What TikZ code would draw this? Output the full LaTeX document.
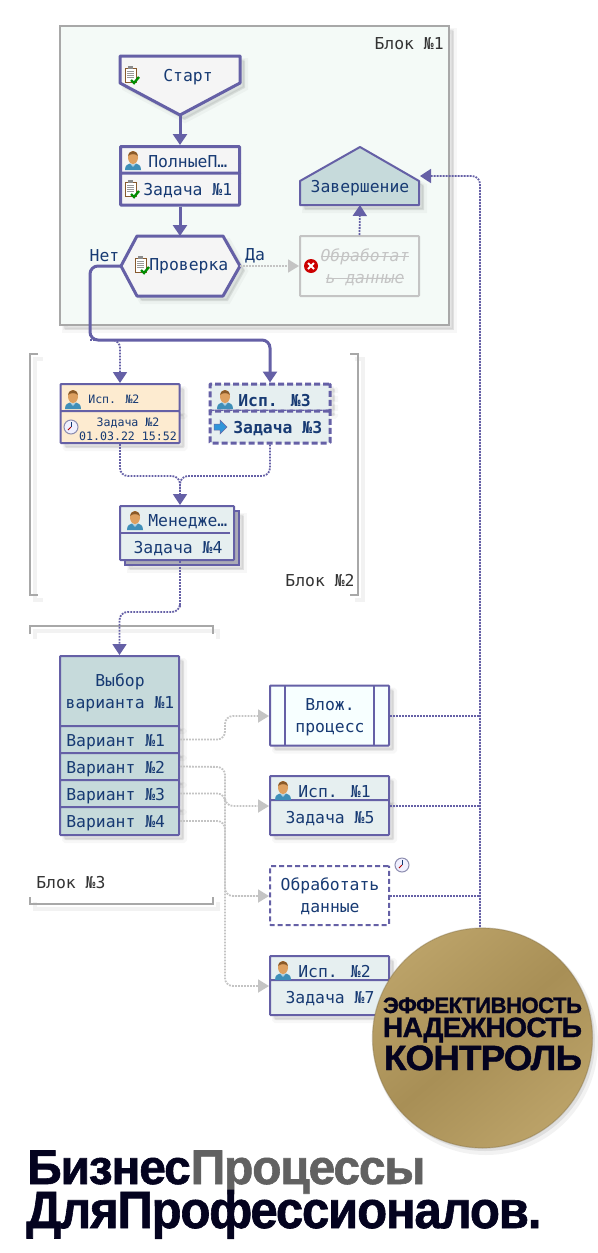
\documentclass[tikz,border=0pt]{standalone}
\usepackage{fontspec}
\usepackage{graphicx}
\usetikzlibrary{arrows.meta}
\setmainfont{DejaVu Sans Mono}
\newfontfamily\heavy[LetterSpace=-2.5,BoldFeatures={FakeBold=1.2}]{Liberation Sans}
\newdimen\upx \upx=.75pt
\definecolor{proc}{HTML}{6560A6}
\definecolor{ink}{HTML}{173A73}
\definecolor{greyl}{HTML}{C4C4C4}
\definecolor{brk}{HTML}{A8A8A8}
\definecolor{tealb}{HTML}{C6DADB}
\definecolor{paleb}{HTML}{E6EFF0}
\definecolor{peach}{HTML}{FDEBD0}
\definecolor{dark}{HTML}{04031F}
\definecolor{gold}{HTML}{BBA268}
\definecolor{golddk}{HTML}{A88F56}
\definecolor{pale}{HTML}{F4FAF7}
\definecolor{skin}{HTML}{DDA060}
\definecolor{hair}{HTML}{8A5A28}
\definecolor{shirt}{HTML}{3F8FB8}
\newcommand\strk[1]{\sbox0{#1}\rlap{\usebox0}\rule[.3em]{\wd0}{.07em}}
\tikzset{
  softsh/.style={
    preaction={transform canvas={shift={(5\upx,-5\upx)}},draw=black,draw opacity=.03,line width=6\upx,fill=black,fill opacity=.05},
    preaction={transform canvas={shift={(4\upx,-4\upx)}},draw=black,draw opacity=.04,line width=2\upx,fill=black,fill opacity=.05}},
  lineshadow/.style={
    preaction={transform canvas={shift={(5\upx,-5\upx)}},draw=black,draw opacity=.05,line width=4\upx}},
  txt/.style={text=ink,font=\fontsize{12.3}{16.5}\selectfont,inner sep=0pt,align=center,yshift=-1.5\upx},
  small/.style={text=ink,font=\fontsize{8.7}{10.5}\selectfont,inner sep=0pt,align=center,yshift=-1\upx},
  lbl/.style={text=black!80,font=\fontsize{12.3}{16.5}\selectfont,inner sep=0pt,yshift=-1.5\upx},
  cell/.style={rectangle,draw=proc,line width=2\upx,minimum width=119\upx,inner sep=0pt,rounded corners=.8\upx,fill=paleb},
  thickbox/.style={line width=3\upx},
  dashbox/.style={line width=3\upx,dash pattern=on 6\upx off 3\upx},
  strong/.style={draw=proc,line width=3\upx,rounded corners=8\upx,-{Triangle[length=8.25pt,width=10.5pt]}},
  dots/.style={draw=proc,line width=1.8\upx,dash pattern=on 1.8\upx off 1.2\upx,rounded corners=8\upx},
  dotarrow/.style={dots,-{Triangle[length=8.25pt,width=10.5pt,fill=proc]}},
  greydots/.style={draw=greyl,line width=1.8\upx,dash pattern=on 1.8\upx off 1.2\upx,rounded corners=8\upx,-{Triangle[length=8.25pt,width=9.75pt,fill=greyl]}},
  bracket/.style={draw=brk,line width=2\upx,lineshadow},
  person/.pic={
    \fill[fill=shirt] (-8,10) .. controls (-8,5) and (-5,4) .. (-3,3.5) -- (0,5.5) -- (3,3.5) .. controls (5,4) and (8,5) .. (8,10) -- cycle;
    \fill[fill=white!55!shirt] (-3,3.5) -- (0,7) -- (3,3.5) -- (0,4.5) -- cycle;
    \fill[fill=skin] (0,-2.5) ellipse [x radius=5, y radius=6.5];
    \fill[fill=hair] (-4.8,-4) .. controls (-4.5,-10.5) and (4.5,-10.5) .. (4.8,-4) .. controls (3,-6.5) and (-3,-6.5) .. (-4.8,-4) -- cycle;
  },
  clipboard/.pic={
    \fill[white,draw=brown!70!black,line width=.8\upx] (-6,-7) rectangle (5,7);
    \fill[black!45] (-3,-9) rectangle (2,-6);
    \foreach \yy in {-4,-2,0,2} {\draw[black!40,line width=.7\upx] (-4,\yy) -- (3,\yy);}
    \draw[green!55!black,line width=2.4\upx] (0,5) -- (3,8) -- (8,2);
  },
  clockicon/.pic={
    \fill[fill=blue!6,draw=blue!30!black!45,line width=1\upx] (0,0) circle [radius=7];
    \draw[red!70!black,line width=.9\upx] (0,0) -- (-3,3);
    \draw[ink,line width=.9\upx] (0,0) -- (0,-5);
  },
  nextarrow/.pic={
    \fill[cyan!70!blue!85,draw=blue!40!black!60,line width=.5\upx] (-6,-3) -- (0,-3) -- (0,-7) -- (7,0) -- (0,7) -- (0,3) -- (-6,3) -- cycle;
  },
  erroricon/.pic={
    \fill[red!80!black] (0,0) circle [radius=7];
    \draw[white,line width=1.8\upx] (-3,-3) -- (3,3) (-3,3) -- (3,-3);
  }
}
\begin{document}
\begin{tikzpicture}[x=.75pt,y=-.75pt]
\useasboundingbox (0,0) rectangle (597,1253);
\fill[white] (0,0) rectangle (597,1253);

% block 1
\path[softsh,draw=brk,line width=2\upx,fill=pale] (60,26) rectangle (449,325);
\node[lbl,anchor=east] (blk1) at (444,42) {Блок №1};

% start
\coordinate (starttip) at (180,115);
\path[softsh,draw=proc,line width=3\upx,fill=black!4,line join=round] (120,56) -- (240,56) -- (240,83) -- (starttip) -- (120,83) -- cycle;
\node[txt] (start) at (188,76) {Старт};
\pic at (131,75) {clipboard};

% full rights / task 1
\node[cell,thickbox,minimum height=27\upx,fill=black!4] (t1h) at (180,160) {};
\node[cell,thickbox,minimum height=32\upx,fill=black!4] (t1b) at (180,189) {};
\pic at (133,160) {person};
\node[txt,anchor=west] (t1hl) at (148,160.5) {ПолныеП…};
\pic at (131,189) {clipboard};
\node[txt,anchor=west] (t1bl) at (143,189) {Задача №1};

% check
\coordinate (chkn) at (180,236);
\coordinate (chkw) at (121,266);
\coordinate (chke) at (240,266);
\path[softsh,draw=proc,line width=3\upx,fill=black!4,line join=round] (chkw) -- (137,236) -- (223,236) -- (chke) -- (223,296) -- (137,296) -- cycle;
\pic at (141,265) {clipboard};
\node[txt,anchor=west] (chk) at (149,265) {Проверка};
\node[txt] (net) at (104.5,254) {Нет};
\node[txt] (da) at (255,254) {Да};

% cancelled task
\node[cell,draw=greyl,fill=none,minimum height=60\upx] (proc) at (359.5,266) {};
\pic at (311,266) {erroricon};
\node[txt,text=greyl,font=\fontsize{12.3}{16.5}\itshape\selectfont] (procl) at (365,266) {\strk{Обработат}\\\strk{ь данные}};

% finish
\coordinate (finb) at (360,205);
\coordinate (finr) at (420,176);
\path[softsh,draw=proc,line width=2\upx,fill=tealb,line join=round] (300,181) -- (360,147) -- (419,181) -- (419,205) -- (300,205) -- cycle;
\node[txt] (fin) at (360,187) {Завершение};

% block 2 brackets
\draw[bracket] (38,354) -- (30,354) -- (30,595) -- (38,595);
\draw[bracket] (350,354) -- (358,354) -- (358,595) -- (350,595);
\node[lbl] (blk2) at (320,579) {Блок №2};

% isp2
\node[cell,softsh,minimum height=27\upx,fill=peach] (i2h) at (120,397.5) {};
\node[cell,softsh,minimum height=32\upx,fill=peach] (i2b) at (120,427) {};
\pic at (73,399) {person};
\node[small,anchor=west] (i2hl) at (88,398.5) {Исп. №2};
\pic at (71,427) {clockicon};
\node[small] (i2bl) at (128,428) {Задача №2\\01.03.22 15:52};

% isp3
\node[cell,softsh,dashbox,minimum width=120\upx,minimum height=27\upx] (i3h) at (270,397.5) {};
\node[cell,dashbox,minimum width=120\upx,minimum height=32\upx] (i3b) at (270,427) {};
\pic at (225,399) {person};
\node[txt,anchor=west,font=\fontsize{12.3}{16.5}\bfseries\selectfont] (i3hl) at (238,399) {Исп. №3};
\pic at (220,427) {nextarrow};
\node[txt,anchor=west,font=\fontsize{12.3}{16.5}\bfseries\selectfont] (i3bl) at (233,427) {Задача №3};

% manager
\fill[softsh,fill=black!30!blue!10!gray!60,draw=proc,line width=2\upx] (125,511) rectangle (239,565);
\node[cell,minimum width=114\upx,minimum height=54\upx] (mgr) at (177,533) {};
\draw[proc,line width=2\upx] (120,533) -- (230,533);
\pic at (135,520) {person};
\node[txt,anchor=west] (mgrl) at (148,520.5) {Менедже…};
\node[txt] (t4) at (178,547) {Задача №4};

% block 3 brackets
\draw[bracket] (30,634) -- (30,626) -- (213,626) -- (213,634);
\draw[bracket] (30,897) -- (30,904) -- (213,904) -- (213,897);
\node[lbl,anchor=west] (blk3) at (36,881) {Блок №3};

% choice
\node[cell,softsh,fill=tealb,minimum height=70\upx] (ch) at (119.5,691) {};
\node[txt] (chl) at (120,691) {Выбор\\варианта №1};
\node[cell,softsh,fill=tealb,minimum height=27\upx] (v1) at (119.5,739.5) {};
\node[cell,softsh,fill=tealb,minimum height=27\upx] (v2) at (119.5,766.5) {};
\node[cell,softsh,fill=tealb,minimum height=27\upx] (v3) at (119.5,793.5) {};
\node[cell,softsh,fill=tealb,minimum height=28\upx] (v4) at (119.5,821) {};
\node[txt,anchor=west] (v1l) at (66,741) {Вариант №1};
\node[txt,anchor=west] (v2l) at (66,768) {Вариант №2};
\node[txt,anchor=west] (v3l) at (66,795) {Вариант №3};
\node[txt,anchor=west] (v4l) at (66,822) {Вариант №4};

% right column
\node[cell,softsh,fill=blue!6!cyan!3!white,minimum height=60\upx] (sub) at (329.5,715.5) {};
\draw[proc,line width=2\upx] (285,686) -- (285,745) (374,686) -- (374,745);
\node[txt] (subl) at (330,715.5) {Влож.\\процесс};

\node[cell,softsh,minimum height=24\upx] (t5h) at (329.5,788) {};
\node[cell,softsh,minimum height=35\upx] (t5b) at (329.5,817.5) {};
\pic at (283,790) {person};
\node[txt,anchor=west] (t5hl) at (298,790) {Исп. №1};
\node[txt] (t5l) at (330,817) {Задача №5};

\node[cell,fill=white,dash pattern=on 5\upx off 3\upx,minimum height=59\upx] (wait) at (329.5,895.5) {};
\node[txt] (waitl) at (330,895) {Обработать\\данные};
\pic at (402,865) {clockicon};

\node[cell,softsh,minimum height=24\upx] (t7h) at (329.5,968) {};
\node[cell,softsh,minimum height=35\upx] (t7b) at (329.5,997.5) {};
\pic at (283,970) {person};
\node[txt,anchor=west] (t7hl) at (298,970) {Исп. №2};
\node[txt] (t7l) at (330,997) {Задача №7};

% junctions
\coordinate (nbus) at (90,340);
\coordinate (mrg) at (180,476);
\coordinate (mrgd) at (180,490);
\coordinate (mbus) at (180,612);
\coordinate (gb1) at (225,716);
\coordinate (gbus) at (225,767);
\coordinate (gy3) at (225,806);
\coordinate (gy2) at (225,896);
\coordinate (gy4) at (225,986);
\coordinate (rbus) at (480,176);
\coordinate (rbot) at (480,930);

% connectors
\draw[strong] (starttip) -- (t1h.north);
\draw[strong] (t1b.south) -- (chkn);
\draw[strong] (chkw) -- (nbus |- chkw) -- (nbus) -| (i3h.north);
\draw[dotarrow] (nbus) -| (i2h.north);
\draw[dots] (i2b.south) |- (mrg) -- (mrgd);
\draw[dots] (i3b.south) |- (mrg) -- (mrgd);
\draw[dotarrow] (mrgd) -- (mrg |- mgr.north);
\draw[dotarrow] (mrg |- mgr.south) |- (mbus) -| (ch.north);
\draw[greydots] (chke) -- (proc.west);
\draw[dotarrow] (proc.north) -- (finb);
\draw[greydots] (v1.east) -- (gb1 |- v1.east) -- (gb1) -- (gb1 -| sub.west);
\draw[greydots] (v2.east) -- (gbus) -- (gy2) -- (gy2 -| wait.west);
\draw[greydots] (v3.east) -- (gbus |- v3.east) -- (gy3) -- (gy3 -| t5b.west);
\draw[greydots] (v4.east) -- (gbus |- v4.east) -- (gy4) -- (gy4 -| t7b.west);
\draw[dotarrow] (rbot) -- (rbus) -- (finr);
\draw[dots] (gb1 -| sub.east) -- (gb1 -| rbus);
\draw[dots] (gy3 -| t5b.east) -- (gy3 -| rbus);
\draw[dots] (gy2 -| wait.east) -- (gy2 -| rbus);

% gold seal
\fill[black,opacity=.05] (486,1043) circle [radius=112];
\fill[black,opacity=.08] (485,1041) circle [radius=110];
\shade[top color=gold,bottom color=gold,middle color=golddk,shading angle=40] (482.5,1038) circle [radius=110];
\draw[gold!70!black,opacity=.4,line width=1.2\upx] (482.5,1038) circle [radius=110];
\node[inner sep=0pt,text=dark,anchor=base] (eff) at (482.5,1013) {\resizebox{199\upx}{15.5\upx}{\heavy\bfseries ЭФФЕКТИВНОСТЬ}};
\node[inner sep=0pt,text=dark,anchor=base] (rel) at (482.5,1037) {\resizebox{199\upx}{19.5\upx}{\heavy\bfseries НАДЕЖНОСТЬ}};
\node[inner sep=0pt,text=dark,anchor=base] (ctl) at (483,1070) {\resizebox{198\upx}{24.5\upx}{\heavy\bfseries КОНТРОЛЬ}};

% title
\node[inner sep=0pt,anchor=base west,text=dark] (ti1) at (27,1184) {\resizebox{398\upx}{33.5\upx}{\heavy\bfseries Бизнес\textcolor{black!62}{Процессы}}};
\node[inner sep=0pt,anchor=base west,text=dark] (ti2) at (26,1228) {\resizebox{515\upx}{38\upx}{\heavy\bfseries ДляПрофессионалов.}};
\end{tikzpicture}
\end{document}
